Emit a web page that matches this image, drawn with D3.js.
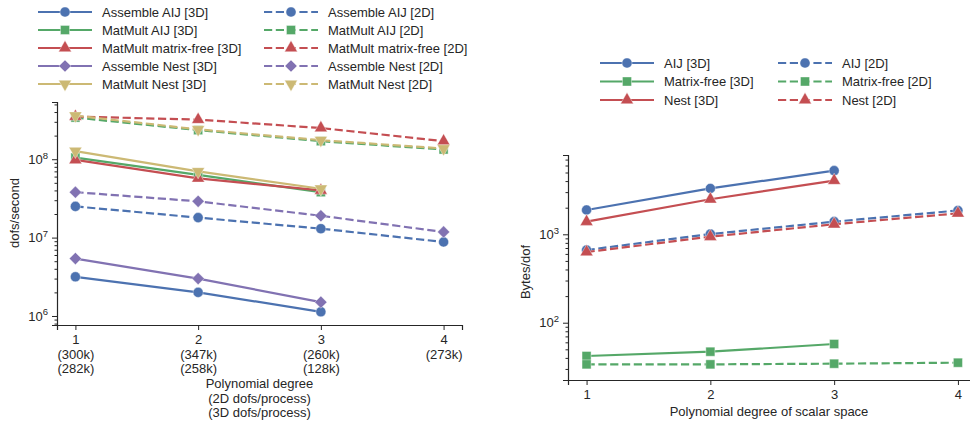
<!DOCTYPE html>
<html>
<head>
<meta charset="utf-8">
<script src="https://cdn.jsdelivr.net/npm/d3@7"></script>
<style>
  body { margin: 0; background: #fff; }
  svg { font-family: "Liberation Sans", Arial, sans-serif; }
  .axis path, .axis line { stroke: #262626; }
  .axis text { fill: #262626; font-size: 13px; }
</style>
</head>
<body>
<svg id="fig" width="970" height="423"></svg>
<script>
// x values (polynomial degree)
const degrees = [1, 2, 3, 4];
const degreeLabels = [["1", "(300k)", "(282k)"], ["2", "(347k)", "(258k)"], ["3", "(260k)", "(128k)"], ["4", "(273k)"]];

// left panel: dofs/second
const assembleAIJ3D = [3.16e6, 2.0e6, 1.13e6];
const matmultAIJ3D = [1.05e8, 6.3e7, 3.8e7];
const matmultMF3D = [9.8e7, 5.7e7, 4.0e7];
const assembleNest3D = [5.4e6, 3.0e6, 1.5e6];
const matmultNest3D = [1.27e8, 7.0e7, 4.2e7];
const assembleAIJ2D = [2.5e7, 1.8e7, 1.3e7, 8.8e6];
const matmultAIJ2D = [3.4e8, 2.35e8, 1.7e8, 1.33e8];
const matmultMF2D = [3.5e8, 3.2e8, 2.5e8, 1.7e8];
const assembleNest2D = [3.8e7, 2.9e7, 1.9e7, 1.18e7];
const matmultNest2D = [3.6e8, 2.4e8, 1.75e8, 1.37e8];

// right panel: bytes/dof
const aij3D = [1885, 3300, 5250];
const mf3D = [42, 47, 57.4];
const nest3D = [1390, 2490, 4050];
const aij2D = [664, 1007, 1390, 1860];
const mf2D = [33.8, 33.8, 34.4, 35.3];
const nest2D = [630, 940, 1300, 1727];

const C = { blue: "#4C72B0", green: "#55A868", red: "#C44E52", purple: "#8172B2", yellow: "#CCB974" };
const dash = "8.2,3.6";
const FS = "13px";

const leftSeries = [
  { name: "Assemble AIJ [3D]", v: assembleAIJ3D, c: C.blue, m: "circle", d: false },
  { name: "MatMult AIJ [3D]", v: matmultAIJ3D, c: C.green, m: "square", d: false },
  { name: "MatMult matrix-free [3D]", v: matmultMF3D, c: C.red, m: "triangle", d: false },
  { name: "Assemble Nest [3D]", v: assembleNest3D, c: C.purple, m: "diamond", d: false },
  { name: "MatMult Nest [3D]", v: matmultNest3D, c: C.yellow, m: "tridown", d: false },
  { name: "Assemble AIJ [2D]", v: assembleAIJ2D, c: C.blue, m: "circle", d: true },
  { name: "MatMult AIJ [2D]", v: matmultAIJ2D, c: C.green, m: "square", d: true },
  { name: "MatMult matrix-free [2D]", v: matmultMF2D, c: C.red, m: "triangle", d: true },
  { name: "Assemble Nest [2D]", v: assembleNest2D, c: C.purple, m: "diamond", d: true },
  { name: "MatMult Nest [2D]", v: matmultNest2D, c: C.yellow, m: "tridown", d: true }
];
const rightSeries = [
  { name: "AIJ [3D]", v: aij3D, c: C.blue, m: "circle", d: false },
  { name: "Matrix-free [3D]", v: mf3D, c: C.green, m: "square", d: false },
  { name: "Nest [3D]", v: nest3D, c: C.red, m: "triangle", d: false },
  { name: "AIJ [2D]", v: aij2D, c: C.blue, m: "circle", d: true },
  { name: "Matrix-free [2D]", v: mf2D, c: C.green, m: "square", d: true },
  { name: "Nest [2D]", v: nest2D, c: C.red, m: "triangle", d: true }
];

const svg = d3.select("#fig");

const symbols = {
  circle: d3.symbol(d3.symbolCircle, 80),
  square: d3.symbol(d3.symbolSquare, 82),
  triangle: d3.symbol(d3.symbolTriangle, 72),
  diamond: d3.symbol(d3.symbolDiamond2, 95),
  tridown: d3.symbol(d3.symbolTriangle, 72)
};

function marker(g, s, x, y) {
  g.append("path")
    .attr("d", symbols[s.m]())
    .attr("transform", `translate(${x},${y})` + (s.m === "tridown" ? " rotate(180)" : ""))
    .attr("fill", s.c)
    .attr("stroke", "#fff")
    .attr("stroke-width", 0.4);
}

function panel(opts) {
  const { series, xRange, yRange, yDomain } = opts;
  const x = d3.scaleLinear().domain([0.85, 4.15]).range(xRange);
  const y = d3.scaleLog().domain(yDomain).range(yRange);
  const g = svg.append("g");

  // y axis: major labelled ticks at decades, short minor ticks
  const lo = Math.ceil(Math.log10(yDomain[0])), hi = Math.floor(Math.log10(yDomain[1]));
  const majors = d3.range(lo, hi + 1).map(e => Math.pow(10, e));
  const minors = y.ticks().filter(t => Math.abs(Math.log10(t) - Math.round(Math.log10(t))) > 1e-9);

  const ya = g.append("g").attr("class", "axis").attr("transform", `translate(${xRange[0]},0)`);
  ya.call(d3.axisLeft(y).tickValues(majors).tickSize(5).tickFormat(""));
  ya.select(".domain").attr("stroke-width", 1.2);
  ya.selectAll(".tick text").remove();
  ya.selectAll(".tick").each(function(d) {
    const t = d3.select(this).append("text")
      .attr("x", -9).attr("dy", "0.32em").attr("text-anchor", "end")
      .attr("fill", "#262626").style("font-size", FS);
    t.append("tspan").text("10");
    t.append("tspan").attr("dy", "-0.55em").style("font-size", "9.5px").text(Math.round(Math.log10(d)));
  });
  const ym = g.append("g").attr("class", "axis").attr("transform", `translate(${xRange[0]},0)`);
  ym.call(d3.axisLeft(y).tickValues(minors).tickSize(2.5).tickFormat(""));
  ym.select(".domain").remove();

  // x axis
  const xa = g.append("g").attr("class", "axis").attr("transform", `translate(0,${yRange[0]})`);
  xa.call(d3.axisBottom(x).tickValues(degrees).tickSize(5).tickFormat(""));
  xa.select(".domain").attr("stroke-width", 1.2);
  xa.selectAll(".tick").each(function(d, i) {
    const t = d3.select(this).append("text").attr("text-anchor", "middle").attr("fill", "#262626").style("font-size", FS);
    opts.xLabels[i].forEach((s, k) => t.append("tspan").attr("x", 0).attr("y", 19 + k * 14.5).text(s));
  });

  // axis titles
  const xt = g.append("text").attr("text-anchor", "middle").attr("fill", "#262626").style("font-size", FS);
  opts.xTitle.forEach((s, k) => xt.append("tspan").attr("x", (xRange[0] + opts.axisEnd) / 2).attr("y", opts.xTitleY + k * 14.5).text(s));
  g.append("text")
    .attr("transform", `translate(${opts.yTitleX},${opts.yTitleY}) rotate(-90)`)
    .attr("text-anchor", "middle").attr("fill", "#262626").style("font-size", FS)
    .text(opts.yTitle);

  // lines and markers
  const line = d3.line().x((d, i) => x(degrees[i])).y(d => y(d));
  series.forEach(s => {
    g.append("path").datum(s.v).attr("d", line)
      .attr("fill", "none").attr("stroke", s.c).attr("stroke-width", 2.2)
      .attr("stroke-dasharray", s.d ? dash : null);
    s.v.forEach((v, i) => marker(g, s, x(degrees[i]), y(v)));
  });

  // legend, two columns (3D left, 2D right)
  const half = series.length / 2;
  series.forEach((s, i) => {
    const col = i < half ? 0 : 1, row = i % half;
    const lx = opts.legX[col], ly = opts.legY + row * opts.legStep;
    const lg = svg.append("g").attr("transform", `translate(${lx},${ly})`);
    lg.append("line").attr("x1", 0).attr("x2", 54).attr("y1", 0).attr("y2", 0)
      .attr("stroke", s.c).attr("stroke-width", 2.2).attr("stroke-dasharray", s.d ? dash : null);
    marker(lg, s, 27, 0);
    lg.append("text").attr("x", 64).attr("dy", "0.35em").attr("fill", "#262626")
      .style("font-size", FS).text(s.name);
  });
}

panel({
  series: leftSeries,
  xRange: [57, 462], axisEnd: 462,
  yRange: [325, 102], yDomain: [Math.pow(10, 5.885), Math.pow(10, 8.73)],
  xLabels: degreeLabels,
  xTitle: ["Polynomial degree", "(2D dofs/process)", "(3D dofs/process)"], xTitleY: 388,
  yTitle: "dofs/second", yTitleX: 19, yTitleY: 213,
  legX: [38, 264], legY: 12, legStep: 18
});

panel({
  series: rightSeries,
  xRange: [568, 976.5], axisEnd: 970,
  yRange: [380, 155], yDomain: [Math.pow(10, 1.352), Math.pow(10, 3.897)],
  xLabels: degrees.map(d => [String(d)]),
  xTitle: ["Polynomial degree of scalar space"], xTitleY: 416,
  yTitle: "Bytes/dof", yTitleX: 530, yTitleY: 272,
  legX: [600, 778], legY: 63, legStep: 18.5
});
</script>
</body>
</html>
